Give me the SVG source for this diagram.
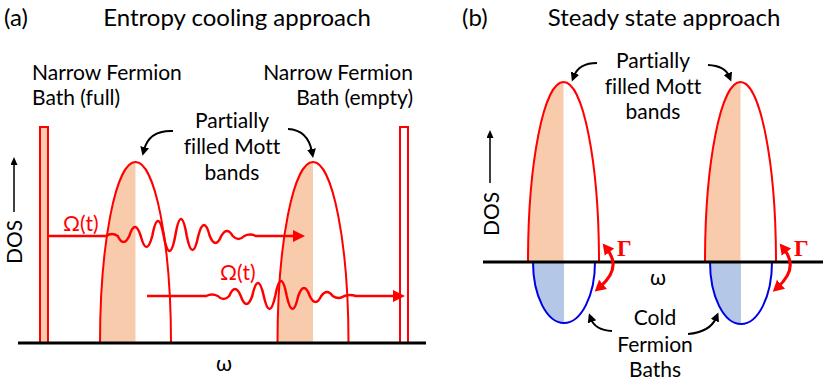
<svg xmlns="http://www.w3.org/2000/svg" width="830" height="386" viewBox="0 0 830 386">
<style>
text{font-family:"Lato","Open Sans",sans-serif;fill:#000;font-variant-ligatures:none}
.t{font-size:24px}
.l{font-size:21px}
.c{text-anchor:middle}
.r{fill:#ff0000}
.band{fill:none;stroke:#ff0000;stroke-width:2}
.peach{fill:#f8cbad;stroke:none}
.bl{fill:none;stroke:#0000e6;stroke-width:2}
.blf{fill:#b4c7e7;stroke:none}
.axis{stroke:#000;stroke-width:3;fill:none}
.wave{fill:none;stroke:#ff0000;stroke-width:2.5;stroke-linejoin:round}
.ptr{fill:none;stroke:#000;stroke-width:2}
.gam{fill:none;stroke:#ff0000;stroke-width:3}
.g{font-family:"Liberation Serif","DejaVu Serif",serif;font-weight:bold;font-size:23px;fill:#ff0000}
</style>
<defs>
<marker id="ah-red" markerUnits="userSpaceOnUse" markerWidth="14" markerHeight="14" refX="3" refY="6" orient="auto"><path d="M0,0 L12,6 L0,12 z" fill="#ff0000"/></marker>
<marker id="ah-gam" markerUnits="userSpaceOnUse" markerWidth="14" markerHeight="14" refX="4" refY="6" orient="auto-start-reverse"><path d="M0,0 L11,6 L0,12 z" fill="#ff0000"/></marker>
<marker id="ah-blk" markerUnits="userSpaceOnUse" markerWidth="12" markerHeight="12" refX="3" refY="4.5" orient="auto"><path d="M0,0 L9,4.5 L0,9 z" fill="#000"/></marker>
<marker id="ah-dos" markerUnits="userSpaceOnUse" markerWidth="10" markerHeight="10" refX="2" refY="3.5" orient="auto"><path d="M0,0 L8,3.5 L0,7 z" fill="#000"/></marker>
</defs>

<!-- Panel (a) -->
<g id="title-a">
<text class="t" x="4" y="26">(a)</text>
<text class="t" x="237" y="26" text-anchor="middle">Entropy cooling approach</text>
</g>
<g id="bath-full">
<rect x="40" y="127" width="8" height="216" fill="#f8cbad" stroke="#ff0000" stroke-width="2"/>
<text class="l" x="32" y="80">Narrow Fermion</text>
<text class="l" x="32" y="105">Bath (full)</text>
</g>
<g id="bath-empty">
<rect x="400" y="127" width="8" height="216" fill="#fff" stroke="#ff0000" stroke-width="2"/>
<text class="l" x="413" y="80" text-anchor="end">Narrow Fermion</text>
<text class="l" x="413" y="105" text-anchor="end">Bath (empty)</text>
</g>
<g id="band-a1">
<path class="peach" d="M100,343 A35.5,181 0 0 1 135.5,162 L135.5,343 Z"/>
<path class="band" d="M100,343 A35.5,181 0 0 1 171,343"/>
</g>
<g id="band-a2">
<path class="peach" d="M277.5,343 A35.5,181 0 0 1 313,162 L313,343 Z"/>
<path class="band" d="M277.5,343 A35.5,181 0 0 1 348.5,343"/>
</g>
<g id="label-mott-a">
<text class="l c" x="232" y="128">Partially</text>
<text class="l c" x="232" y="154">filled Mott</text>
<text class="l c" x="232" y="180">bands</text>
</g>
<g id="axis-a">
<line class="axis" x1="18" y1="343" x2="426" y2="343"/>
<text class="l c" x="224" y="371">ω</text>
<text class="l c" transform="translate(22,242) rotate(-90)">DOS</text>
<line x1="14" y1="212" x2="14" y2="163" stroke="#000" stroke-width="1.5" marker-end="url(#ah-dos)"/>
</g>
<g id="omega-labels">
<text class="l r" x="63" y="231">Ω(t)</text>
<text class="l r" x="220" y="280">Ω(t)</text>
</g>

<!-- Panel (b) -->
<g id="title-b">
<text class="t" x="462" y="26">(b)</text>
<text class="t" x="664" y="26" text-anchor="middle">Steady state approach</text>
</g>
<g id="band-b1">
<path class="peach" d="M528,262 A35.5,180 0 0 1 563.5,82 L563.5,262 Z"/>
<path class="band" d="M528,262 A35.5,180 0 0 1 599,262"/>
</g>
<g id="band-b2">
<path class="peach" d="M705,262 A35.5,180 0 0 1 740.5,82 L740.5,262 Z"/>
<path class="band" d="M705,262 A35.5,180 0 0 1 776,262"/>
</g>
<g id="cold-bath-b1">
<path class="blf" d="M533,262 A31,61 0 0 0 564,323 L564,262 Z"/>
<path class="bl" d="M533,262 A31,61 0 0 0 595,262"/>
</g>
<g id="cold-bath-b2">
<path class="blf" d="M710,262 A31,62 0 0 0 741,324 L741,262 Z"/>
<path class="bl" d="M710,262 A31,62 0 0 0 772,262"/>
</g>
<g id="label-mott-b">
<text class="l c" x="653" y="68">Partially</text>
<text class="l c" x="653" y="94">filled Mott</text>
<text class="l c" x="653" y="119">bands</text>
</g>
<g id="label-cold-b">
<text class="l c" x="655" y="325">Cold</text>
<text class="l c" x="655" y="352">Fermion</text>
<text class="l c" x="655" y="377">Baths</text>
</g>
<g id="axis-b">
<line class="axis" x1="483" y1="262" x2="823" y2="262"/>
<text class="l c" x="658" y="285">ω</text>
<text class="l c" transform="translate(499,214) rotate(-90)">DOS</text>
<line x1="490" y1="183" x2="490" y2="136" stroke="#000" stroke-width="1.5" marker-end="url(#ah-dos)"/>
</g>
<g id="gamma-labels">
<text class="g" x="617" y="256">Γ</text>
<text class="g" x="794" y="256">Γ</text>
</g>

<g id="connectors">
<path class="wave" marker-end="url(#ah-red)" d="M47,236 L106.25,236 Q112,232 117.75,236 Q123.5,248 129.25,236 Q135,218 140.75,236 Q146.5,258 152.25,236 Q158,206 163.75,236 Q169.5,266 175.25,236 Q181,202 186.75,236 Q192.5,264 198.25,236 Q204,214 209.75,236 Q215.5,250 221.25,236 Q227,226 232.75,236 Q238.5,242 244.25,236 Q250,233 255.75,236 L296,236"/>
<path class="wave" marker-end="url(#ah-red)" d="M147,296 L206.25,296 Q212,293 217.75,296 Q223.5,302 229.25,296 Q235,282 240.75,296 Q246.5,312 252.25,296 Q258,270 263.75,296 Q269.5,322 275.25,296 Q281,266 286.75,296 Q292.5,322 298.25,296 Q304,280 309.75,296 Q315.5,308 321.25,296 Q327,288 332.75,296 Q338.5,300 344.25,296 Q350,294 355.75,296 L396,296"/>
<path class="ptr" marker-end="url(#ah-blk)" d="M173,131 Q149,130 144,150"/>
<path class="ptr" marker-end="url(#ah-blk)" d="M288,129 Q308,130 312,152"/>
<path class="ptr" marker-end="url(#ah-blk)" d="M597,63 Q579,63 574,76"/>
<path class="ptr" marker-end="url(#ah-blk)" d="M708,65 Q725,66 729,76"/>
<path class="ptr" marker-end="url(#ah-blk)" d="M612,331 Q595,330 591,319"/>
<path class="ptr" marker-end="url(#ah-blk)" d="M688,334 Q710,332 716,318"/>
<path class="gam" marker-start="url(#ah-gam)" marker-end="url(#ah-gam)" d="M600,287 Q622,268 607,249"/>
<path class="gam" marker-start="url(#ah-gam)" marker-end="url(#ah-gam)" d="M778,287 Q799,268 784,249"/>
</g>
</svg>
